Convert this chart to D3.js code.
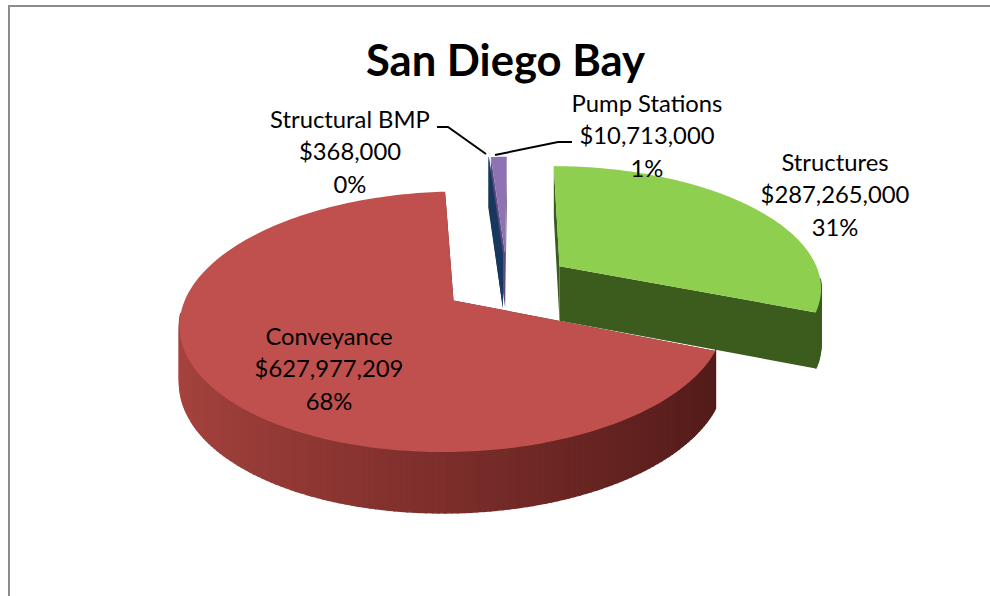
<!DOCTYPE html>
<html>
<head>
<meta charset="utf-8">
<script src="https://cdn.jsdelivr.net/npm/d3@7"></script>
<style>
html, body { margin: 0; padding: 0; background: #fff; overflow: hidden; }
svg { display: block; }
text { font-family: Lato, "Open Sans", sans-serif; fill: #000; }
</style>
</head>
<body>
<div id="chart"></div>
<script>
var categories = ["Conveyance", "Structural BMP", "Pump Stations", "Structures"];
var amounts = [627977209, 368000, 10713000, 287265000];
var amountLabels = ["$627,977,209", "$368,000", "$10,713,000", "$287,265,000"];
var percentLabels = ["68%", "0%", "1%", "31%"];
var topColors = ["#c0504d", "#1f4e79", "#8f72b4", "#8fcf4f"];
var wallLeft = ["#a8443f", "#17375e", "#5f4a80", "#4a7326"];
var wallMid = ["#7d2e2b", "#17375e", "#5f4a80", "#42651f"];
var wallRight = ["#4f1a18", "#17375e", "#5f4a80", "#3b5c1c"];
var labelPos = [[329, 336], [350, 119], [647, 103], [835, 162]];
var leaderLines = [null, [[437, 127], [448, 127], [486, 154]], [[572, 142], [558, 142], [495, 155]], null];

var width = 990, height = 596;
var cx = 507, cy = 282.5, rx = 262.5, ry = 121;
var persp = 0.16, explode = 0.246, depth = 55;
var firstAngle = -248 * Math.PI / 180;

var svg = d3.select("#chart").append("svg")
  .attr("width", width)
  .attr("height", height);

svg.append("path")
  .attr("d", d3.line()([[9, height], [9, 6], [width, 6]]))
  .attr("fill", "none")
  .attr("stroke", "#8c8c8c")
  .attr("stroke-width", 2);

var pie = d3.pie().sort(null).startAngle(firstAngle).endAngle(firstAngle + 2 * Math.PI);
var arcs = pie(amounts);

// disk plane to screen, a little perspective so the back gets smaller
function project(X, Y, down) {
  var s = 1 / (1 + persp * Y);
  return [cx + rx * X * s, cy - ry * Y * s + (down ? depth * Math.sqrt(s) : 0)];
}

function slicePoint(d, a, r, down) {
  var mid = (d.startAngle + d.endAngle) / 2;
  var ox = explode * Math.sin(mid), oy = explode * Math.cos(mid);
  return project(ox + r * Math.sin(a), oy + r * Math.cos(a), down);
}

var line = d3.line();

function drawSlice(i) {
  var d = arcs[i];
  var g = svg.append("g").attr("class", "slice").attr("data-name", categories[i]);
  var steps = Math.max(2, Math.ceil((d.endAngle - d.startAngle) / 0.02));
  var angles = d3.range(steps + 1).map(function(k) {
    return d.startAngle + (d.endAngle - d.startAngle) * k / steps;
  });
  var shade = d3.scaleLinear().domain([-1, 0, 1]).range([wallLeft[i], wallMid[i], wallRight[i]]);

  // two cut faces
  [d.startAngle, d.endAngle].forEach(function(a) {
    g.append("path")
      .attr("d", line([slicePoint(d, a, 0), slicePoint(d, a, 1), slicePoint(d, a, 1, true), slicePoint(d, a, 0, true)]) + "Z")
      .attr("fill", wallRight[i]);
  });

  // outer rim in strips, only the part facing us so nothing peeks out behind the top
  var strips = d3.range(steps).map(function(k) { return [angles[k], angles[k + 1]]; })
    .filter(function(p) { return Math.cos((p[0] + p[1]) / 2) < -0.1; });
  strips.sort(function(p, q) { return Math.cos(q[0]) - Math.cos(p[0]); });
  g.selectAll("path.rim")
    .data(strips)
    .join("path")
    .attr("class", "rim")
    .attr("d", function(p) {
      return line([slicePoint(d, p[0], 1), slicePoint(d, p[1], 1), slicePoint(d, p[1], 1, true), slicePoint(d, p[0], 1, true)]) + "Z";
    })
    .attr("fill", function(p) { return shade(Math.sin(p[0])); })
    .attr("stroke", function(p) { return shade(Math.sin(p[0])); })
    .attr("stroke-width", 1.5);

  // top face
  var outline = [slicePoint(d, d.startAngle, 0)].concat(angles.map(function(a) { return slicePoint(d, a, 1); }));
  g.append("path")
    .attr("d", line(outline) + "Z")
    .attr("fill", topColors[i]);
}

[2, 1, 3, 0].forEach(drawSlice);

leaderLines.forEach(function(pts) {
  if (!pts) return;
  svg.append("path")
    .attr("d", line(pts))
    .attr("fill", "none")
    .attr("stroke", "#000")
    .attr("stroke-width", 2);
});

svg.append("text")
  .attr("x", 505.5)
  .attr("y", 59)
  .attr("text-anchor", "middle")
  .attr("dominant-baseline", "central")
  .style("font-size", "43.6px")
  .style("font-weight", "700")
  .text("San Diego Bay");

categories.forEach(function(c, i) {
  var rows = [c, amountLabels[i], percentLabels[i]];
  svg.append("g").selectAll("text")
    .data(rows)
    .join("text")
    .attr("x", labelPos[i][0])
    .attr("y", function(t, k) { return labelPos[i][1] + k * 32.3; })
    .attr("text-anchor", "middle")
    .attr("dominant-baseline", "central")
    .style("font-size", "23.8px")
    .text(function(t) { return t; });
});
</script>
</body>
</html>
